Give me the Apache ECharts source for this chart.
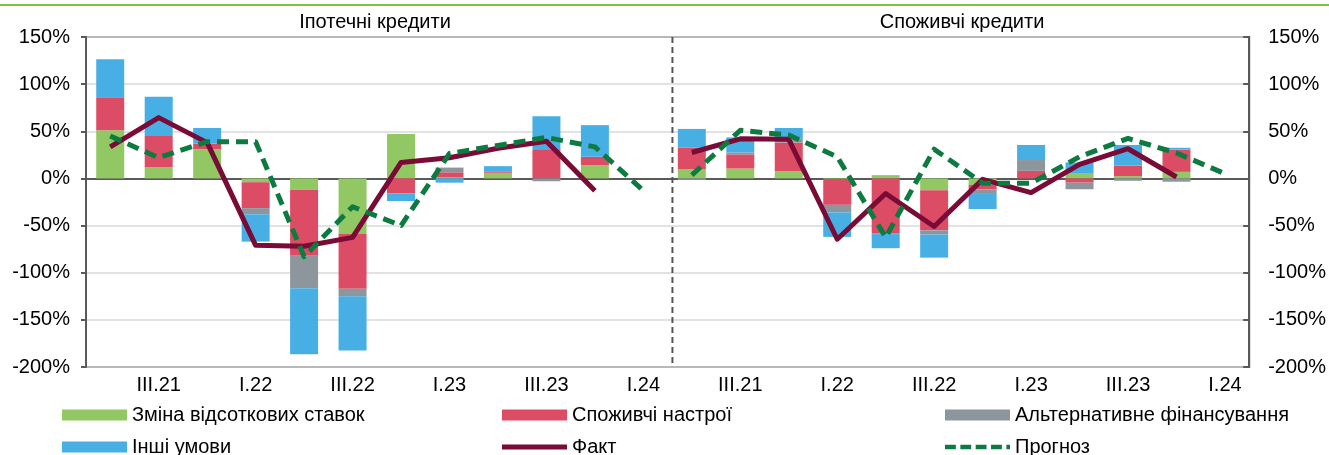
<!DOCTYPE html>
<html>
<head>
<meta charset="utf-8">
<script src="https://cdn.jsdelivr.net/npm/echarts@6/dist/echarts.min.js"></script>
<style>
  html, body { margin: 0; padding: 0; background: #fff; }
  #chart { width: 1329px; height: 455px; }
</style>
</head>
<body>
<div id="chart"></div>
<script>
// ---- Data ----
const quarters = ['II.21','III.21','IV.21','I.22','II.22','III.22','IV.22','I.23','II.23','III.23','IV.23','I.24'];
const categories = quarters.concat(quarters);
const panelTitles = ['Іпотечні кредити', 'Споживчі кредити'];
const yTicks = [-200, -150, -100, -50, 0, 50, 100, 150];

// Mortgage (left panel)
const mortRates = [51, 12, 31, -4, -12, -59, 47, 1, 6, 0, 14, null];
const mortMood  = [35, 33, 6, -27.5, -70, -58, -16, 5.5, 1.5, 31, 9, null];
const mortAlt   = [0, 0, 0, -6.5, -34.5, -8, 0, 5, 0, -3, 0, null];
const mortOther = [40.5, 41.5, 16.5, -29, -70, -57.5, -8, -4.5, 5.5, 35, 33.5, null];
const mortFact  = [33.5, 64.5, 38, -71, -72, -62.5, 17, 22, 32, 39.5, -13, null];
const mortFcst  = [45, 22, 39, 39, -83, -30, -50, 26.5, 35, 43.5, 33.5, -13];

// Consumer (right panel)
const consRates = [10, 10.5, 7.5, -1, 3.5, -12.5, -7, 0, 5, 2.5, 7, null];
const consMood  = [22.5, 15, 30.5, -27, -58, -42.5, -4.5, 8, -4.5, 11, 23.5, null];
const consAlt   = [-1.5, 2, 4, -8, -1, -4.5, -4, 11.5, -7, -2.5, -3.5, null];
const consOther = [20, 16, 11.5, -26, -15, -24.5, -17, 16, 12, 22, 2, null];
const consFact  = [27.5, 42, 41.5, -64.5, -16, -51, -1, -15, 15, 31.5, 1.5, null];
const consFcst  = [3.5, 51, 46, 23, -62.5, 31, -5, -5, 23, 42.5, 27, 5];

const seriesNames = ['Зміна відсоткових ставок', 'Споживчі настрої', 'Альтернативне фінансування', 'Інші умови', 'Факт', 'Прогноз'];

// ---- Chart ----
const FONT = "'Liberation Sans', Arial, sans-serif";
const C = {
  green: '#92C864', red: '#DC4C64', gray: '#8D969C', blue: '#48AFE5',
  fact: '#7A0A36', fcst: '#0B7B40', axis: '#595959', grid: '#D9D9D9'
};
const empty = new Array(12).fill(null);
const DIVIDER_AT = 12.1;

function barSeries(name, color, left, right) {
  return {
    name: name, type: 'bar', stack: 'f', barWidth: 28, xAxisIndex: 0, yAxisIndex: 0,
    itemStyle: { color: color }, data: left.concat(right)
  };
}
function lineSeries(name, color, data, dashed) {
  return {
    name: name, type: 'line', xAxisIndex: 0, yAxisIndex: 0, symbol: 'none', z: 5,
    connectNulls: false,
    lineStyle: { color: color, width: 5, type: dashed ? [12, 7] : 'solid', cap: 'butt', join: 'round' },
    itemStyle: { color: color },
    data: data
  };
}
const ICON_RECT = 'rect';
const ICON_LINE = 'path://M0,0H65V5H0Z';
const ICON_DASH = 'path://M0,0H12V5H0Z M17,0H29V5H17Z M34,0H46V5H34Z M51,0H63V5H51Z M68,0H72V5H68Z';
function legendItem(name, left, top, icon, h) {
  return {
    left: left, top: top, orient: 'horizontal', itemWidth: 65, itemHeight: h,
    icon: icon,
    textStyle: { fontSize: 20, color: '#000', fontFamily: FONT },
    data: [name]
  };
}

const chart = echarts.init(document.getElementById('chart'), null, { renderer: 'canvas' });

chart.setOption({
  animation: false,
  backgroundColor: '#fff',
  textStyle: { fontFamily: FONT },
  grid: { left: 86, right: 77, top: 37, bottom: 88, show: true, borderColor: C.axis, borderWidth: 2, backgroundColor: 'transparent' },
  legend: [
    legendItem(seriesNames[0], 57, 400, ICON_RECT, 11),
    legendItem(seriesNames[3], 57, 432, ICON_RECT, 11),
    legendItem(seriesNames[1], 497, 400, ICON_RECT, 11),
    legendItem(seriesNames[4], 497, 432, ICON_LINE, 5),
    legendItem(seriesNames[2], 940, 400, ICON_RECT, 11),
    legendItem(seriesNames[5], 940, 432, ICON_DASH, 5)
  ],
  xAxis: [
    {
      type: 'category', data: categories, boundaryGap: true,
      axisLine: { show: true, lineStyle: { color: C.axis, width: 2 } },
      axisTick: { show: false },
      axisLabel: { interval: function (i) { return i % 2 === 1; }, fontSize: 20, color: '#000', margin: 8, fontFamily: FONT }
    },
    { type: 'value', min: 0, max: 24, show: false }
  ],
  yAxis: [
    {
      type: 'value', min: yTicks[0], max: yTicks[yTicks.length - 1], interval: 50, position: 'left',
      axisLine: { show: true, lineStyle: { color: C.axis, width: 2 } },
      axisTick: { show: true, length: 5, lineStyle: { color: C.axis, width: 2 } },
      axisLabel: { formatter: '{value}%', fontSize: 20, color: '#000', margin: 16, fontFamily: FONT },
      splitLine: { show: true, lineStyle: { color: C.grid, width: 1.5 } }
    },
    {
      type: 'value', min: yTicks[0], max: yTicks[yTicks.length - 1], interval: 50, position: 'right',
      axisLine: { show: true, lineStyle: { color: C.axis, width: 2 } },
      axisTick: { show: true, inside: true, length: 6, lineStyle: { color: C.axis, width: 2 } },
      axisLabel: { formatter: '{value}%', fontSize: 20, color: '#000', margin: 19, fontFamily: FONT },
      splitLine: { show: false }
    }
  ],
  graphic: [
    { type: 'line', shape: { x1: 0, y1: 5, x2: 1329, y2: 5 }, style: { stroke: '#7FC242', lineWidth: 2 } },
    { type: 'text', x: 375, y: 22, style: { text: panelTitles[0], fill: '#000', font: '20px ' + FONT, textAlign: 'center', textVerticalAlign: 'middle' } },
    { type: 'text', x: 962, y: 22, style: { text: panelTitles[1], fill: '#000', font: '20px ' + FONT, textAlign: 'center', textVerticalAlign: 'middle' } }
  ],
  series: [
    barSeries(seriesNames[0], C.green, mortRates, consRates),
    barSeries(seriesNames[1], C.red, mortMood, consMood),
    barSeries(seriesNames[2], C.gray, mortAlt, consAlt),
    barSeries(seriesNames[3], C.blue, mortOther, consOther),
    lineSeries(seriesNames[4], C.fact, mortFact.concat(empty), false),
    lineSeries(seriesNames[4], C.fact, empty.concat(consFact), false),
    lineSeries(seriesNames[5], C.fcst, mortFcst.concat(empty), true),
    lineSeries(seriesNames[5], C.fcst, empty.concat(consFcst), true),
    {
      name: 'divider', type: 'line', xAxisIndex: 1, yAxisIndex: 0, symbol: 'none', z: 1,
      lineStyle: { color: '#555', width: 2, type: [6, 4] },
      data: [[DIVIDER_AT, yTicks[yTicks.length - 1]], [DIVIDER_AT, yTicks[0]]]
    }
  ]
});
</script>
</body>
</html>
